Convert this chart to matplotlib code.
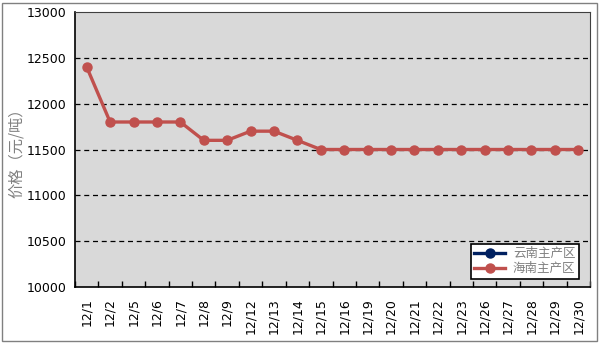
import matplotlib

matplotlib.use("Agg")
import matplotlib.pyplot as plt  # noqa: E402
import numpy as np  # noqa: E402
from matplotlib.patches import Rectangle  # noqa: E402

plt.rcParams["font.family"] = ["DejaVu Sans", "Noto Sans CJK SC"]

dates = ["12/1", "12/2", "12/5", "12/6", "12/7", "12/8", "12/9", "12/12",
         "12/13", "12/14", "12/15", "12/16", "12/19", "12/20", "12/21",
         "12/22", "12/23", "12/26", "12/27", "12/28", "12/29", "12/30"]
hainan = [12400, 11800, 11800, 11800, 11800, 11600, 11600, 11700, 11700,
          11600, 11500, 11500, 11500, 11500, 11500, 11500, 11500, 11500,
          11500, 11500, 11500, 11500]
yunnan = [np.nan] * len(dates)
yticks = [10000, 10500, 11000, 11500, 12000, 12500, 13000]

fig = plt.figure(figsize=(6, 3.43), dpi=100)
ax = fig.add_axes([75 / 600, 1 - 287 / 343, 515 / 600, 275 / 343])
ax.set_facecolor("#d9d9d9")

x = np.arange(len(dates))
ax.plot(x, yunnan, color="#002060", marker="o", markersize=6.5, lw=2.4,
        label="云南主产区")
ax.plot(x, hainan, color="#c0504d", marker="o", markersize=6.5, lw=2.4,
        label="海南主产区")

ax.set_xlim(-0.5, len(dates) - 0.5)
ax.set_ylim(10000, 13000)
ax.set_yticks(yticks)
ax.set_yticklabels([str(v) for v in yticks], fontsize=9)
for v in yticks[1:-1]:
    ax.axhline(v, color="black", lw=0.9, ls=(0, (4, 3)), zorder=1)

ax.set_xticks(x)
ax.set_xticklabels(dates, rotation=90, fontsize=9)
ax.set_xticks(np.arange(len(dates) + 1) - 0.5, minor=True)
ax.tick_params(axis="x", which="major", length=0, pad=8)
ax.tick_params(axis="x", which="minor", direction="in", length=4, width=1)
ax.tick_params(axis="y", length=0, pad=6)

for s in ax.spines.values():
    s.set_color("#404040")
ax.spines["left"].set_color("black")
ax.spines["bottom"].set_color("black")
ax.spines["left"].set_linewidth(1.2)
ax.spines["bottom"].set_linewidth(1.2)

ax.set_ylabel("价格（元/吨）", color="#808080", fontsize=11,
              family=["Noto Sans CJK SC", "DejaVu Sans"])
ax.yaxis.set_label_coords(-0.097, 0.5)

leg = ax.legend(loc="lower right", bbox_to_anchor=(0.99, 0.008),
                frameon=True, fancybox=False, handlelength=2.5,
                borderpad=0.25, labelspacing=0.2, handletextpad=0.6,
                prop={"family": ["Noto Sans CJK SC"], "size": 9})
leg.get_frame().set_edgecolor("black")
leg.get_frame().set_linewidth(1.2)
leg.get_frame().set_facecolor("white")
leg.get_frame().set_alpha(1)
for t in leg.get_texts():
    t.set_color("#808080")

fig.patches.append(Rectangle((2 / 600, 2 / 343), 595 / 600, 338 / 343,
                             transform=fig.transFigure, fill=False,
                             edgecolor="#808080", lw=1))

fig.savefig("out.png", dpi=100)
plt.close(fig)
